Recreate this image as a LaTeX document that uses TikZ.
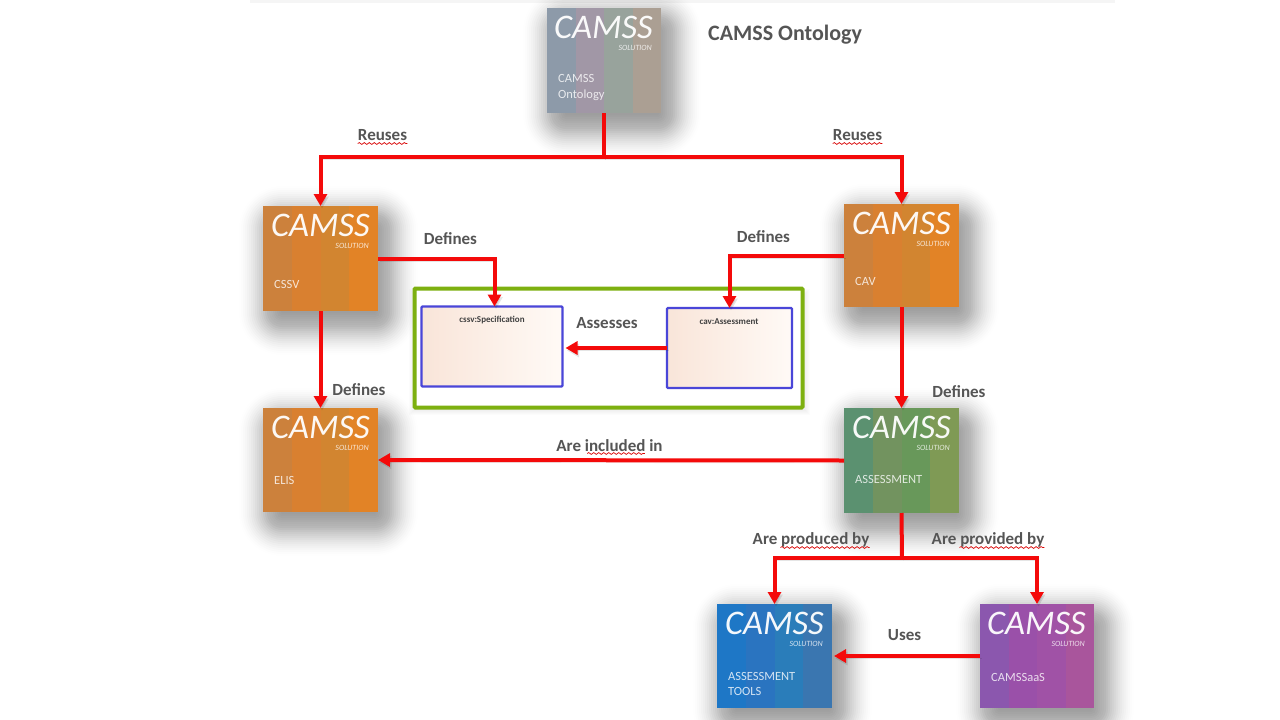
\documentclass[tikz,border=0pt]{standalone}
\usepackage{fontspec}
\setmainfont{Carlito}
\usetikzlibrary{arrows.meta,calc,decorations.pathmorphing}
\definecolor{lblgray}{HTML}{555555}
\definecolor{arrred}{HTML}{F40A0A}
\definecolor{grn}{HTML}{7DB010}
\definecolor{blu}{HTML}{4A46D8}
\definecolor{pl}{HTML}{F9E5D9}
\definecolor{pr}{HTML}{FFFAF6}
\tikzset{
  box/.style={minimum width=#1,minimum height=105pt,inner sep=0pt,outer sep=0pt},
  box/.default=115pt,
  arr/.style={line width=4pt,draw=arrred,-{Triangle[width=13pt,length=12pt]},
     preaction={draw=black,opacity=.10,transform canvas={shift={(1.5pt,-2.5pt)}}}},
  lbl/.style={text=lblgray,font=\fontsize{17}{19}\selectfont\bfseries,inner sep=0pt},
  wave/.style={draw=red!85!black,line width=.7pt,decorate,decoration={snake,amplitude=.9pt,segment length=5pt}},
  cms/.style={text=white,opacity=.95,font=\fontsize{34.5}{36}\selectfont\itshape,inner sep=0pt,anchor=north east,text depth=0pt},
  sol/.style={text=white,opacity=.8,font=\fontsize{8}{9}\selectfont\itshape,inner sep=0pt,anchor=east},
  nam/.style={text=white,opacity=.8,font=\fontsize{12.5}{15.5}\selectfont,inner sep=0pt,anchor=west,align=left},
  inner/.style={draw=blu,line width=2.4pt,rounded corners=1pt,left color=pl,right color=pr,inner sep=0pt,outer sep=0pt},
  ttl/.style={text=black!75,font=\fontsize{9}{10}\selectfont\bfseries,inner sep=0pt},
}
\newcommand{\stripes}[4]{\def\ca{#1}\def\cb{#2}\def\cc{#3}\def\cd{#4}}
\newcommand{\camss}[6]{%
  \node[box=#4,minimum height=#5] (#1) at (#2,#3) {};
  \foreach \e in {-10,-8,...,32} {
    \pgfmathsetmacro{\op}{0.002+0.024*(1-((\e-6)/27)^2)}
    \fill[black,opacity=\op,rounded corners=\e pt+11pt]
      ([shift={(8-\e,12-\e)}]#1.north west) rectangle ([shift={(8+\e,12+\e)}]#1.south east);
  }
  \fill[\ca] (#1.north west) rectangle ($(#1.south west)!.25!(#1.south east)$);
  \fill[\cb] ($(#1.north west)!.25!(#1.north east)$) rectangle ($(#1.south west)!.5!(#1.south east)$);
  \fill[\cc] ($(#1.north west)!.5!(#1.north east)$) rectangle ($(#1.south west)!.75!(#1.south east)$);
  \fill[\cd] ($(#1.north west)!.75!(#1.north east)$) rectangle (#1.south east);
  \node[cms] (#1c) at ([shift={(-8,7.5)}]#1.north east) {CAMSS};
  \node[sol] (#1s) at ([shift={(-9,40)}]#1.north east) {SOLUTION};
  \node[nam] (#1n) at ([shift={(11,#6)}]#1.north west) {\camsslabel};
}
\begin{document}
\begin{tikzpicture}[x=1pt,y=-1pt]
\useasboundingbox (0,0) rectangle (1280,720);
\fill[white] (0,0) rectangle (1280,720);
\coordinate (stripL) at (250,0);
\coordinate (stripR) at (1115,3);
\fill[black!4] (stripL) rectangle (stripR);

\definecolor{oa}{HTML}{8D9AA9}\definecolor{ob}{HTML}{A197A6}\definecolor{oc}{HTML}{98A39C}\definecolor{od}{HTML}{AB9F93}
\definecolor{ra}{HTML}{CC813C}\definecolor{rb}{HTML}{D98030}\definecolor{rc}{HTML}{D28530}\definecolor{rd}{HTML}{E28326}
\definecolor{ga}{HTML}{5B9170}\definecolor{gb}{HTML}{72935F}\definecolor{gc}{HTML}{68985A}\definecolor{gd}{HTML}{7F9A55}
\definecolor{ba}{HTML}{1E77C6}\definecolor{bb}{HTML}{2A74C0}\definecolor{bc}{HTML}{2A7DBA}\definecolor{bd}{HTML}{3A76B0}
\definecolor{pa}{HTML}{8B57AE}\definecolor{pb}{HTML}{9A50A9}\definecolor{pc}{HTML}{A052A6}\definecolor{pd}{HTML}{A9559C}

\stripes{oa}{ob}{oc}{od}
\def\camsslabel{CAMSS\\Ontology}
\camss{ont}{604}{60.5}{114pt}{105pt}{79.5}
\stripes{ra}{rb}{rc}{rd}
\def\camsslabel{CSSV}
\camss{cssv}{320.5}{258.5}{115pt}{105pt}{78}
\def\camsslabel{CAV}
\camss{cav}{901.5}{255.5}{115pt}{103pt}{77}
\def\camsslabel{ELIS}
\camss{elis}{320.5}{460}{115pt}{104pt}{72}
\stripes{ga}{gb}{gc}{gd}
\def\camsslabel{ASSESSMENT}
\camss{asm}{901.5}{460.5}{115pt}{105pt}{71}
\stripes{ba}{bb}{bc}{bd}
\def\camsslabel{ASSESSMENT\\TOOLS}
\camss{tools}{774.5}{656}{115pt}{104pt}{80}
\stripes{pa}{pb}{pc}{pd}
\def\camsslabel{CAMSSaaS}
\camss{saas}{1037}{656}{114pt}{104pt}{73}

\foreach \e in {0,1,...,5} {\fill[black,opacity=.012] (414-\e,294-\e) rectangle (805+\e,410+\e);}
\node[draw=grn,fill=white,line width=4pt,rounded corners=1pt,minimum width=388pt,minimum height=119pt,inner sep=0pt,outer sep=0pt] (frame) at (608.5,348) {};
\node[inner,minimum width=141pt,minimum height=80pt] (spec) at (492,346.5) {};
\node[inner,minimum width=125pt,minimum height=80pt] (cavbox) at (729.5,348) {};
\node[ttl] (spect) at (492,320.5) {cssv:Specification};
\node[ttl] (cavt) at (729,322) {cav:Assessment};

\coordinate (bus1) at (604,157);
\coordinate (bus2) at (902,558);
\draw[arr,-] (ont.south) -- (bus1);
\draw[arr] (bus1) -| (cssv.north);
\draw[arr] (bus1) -| (cav.north);
\draw[arr] (cssv.east) -| ([xshift=2.5pt]spec.north);
\draw[arr] (cav.west) -| (cavbox.north);
\draw[arr] (cavbox.west) -- ([xshift=3pt,yshift=-1.5pt]spec.east);
\draw[arr] (cssv.south) -- (elis.north);
\draw[arr] (cav.south) -- (asm.north);
\draw[arr] (asm.west) -- (elis.east);
\draw[arr,-] (asm.south) -- (bus2);
\draw[arr] (bus2) -| (tools.north);
\draw[arr] (bus2) -| (saas.north);
\draw[arr] (saas.west) -- ([xshift=2pt]tools.east);

\node[lbl,font=\fontsize{22}{24}\selectfont\bfseries,anchor=west] (title) at (708,35) {CAMSS Ontology};
\node[lbl] (r1) at (382.5,135.5) {Reuses};
\node[lbl] (r2) at (857.5,135.5) {Reuses};
\node[lbl] (d1) at (450.5,238.5) {Defines};
\node[lbl] (d2) at (763.5,237) {Defines};
\node[lbl,font=\fontsize{17}{19}\selectfont\bfseries] (as) at (607,323.5) {Assesses};
\node[lbl] (d3) at (359,390) {Defines};
\node[lbl] (d4) at (959,391.5) {Defines};
\node[lbl] (inc) at (609.5,445.5) {Are included in};
\node[lbl] (prod) at (811,539.5) {Are produced by};
\node[lbl] (prov) at (988,539.5) {Are provided by};
\node[lbl] (uses) at (904.5,635.5) {Uses};

\draw[wave] ([yshift=-8pt]r1.west) -- ([yshift=-8pt]r1.east);
\draw[wave] ([yshift=-8pt]r2.west) -- ([yshift=-8pt]r2.east);
\draw[wave] ([xshift=31pt,yshift=-8pt]inc.west) -- ([xshift=-18pt,yshift=-8pt]inc.east);
\draw[wave] ([xshift=28pt,yshift=-8pt]prod.west) -- ([yshift=-8pt]prod.east);
\draw[wave] ([xshift=28pt,yshift=-8pt]prov.west) -- ([yshift=-8pt]prov.east);
\end{tikzpicture}
\end{document}
